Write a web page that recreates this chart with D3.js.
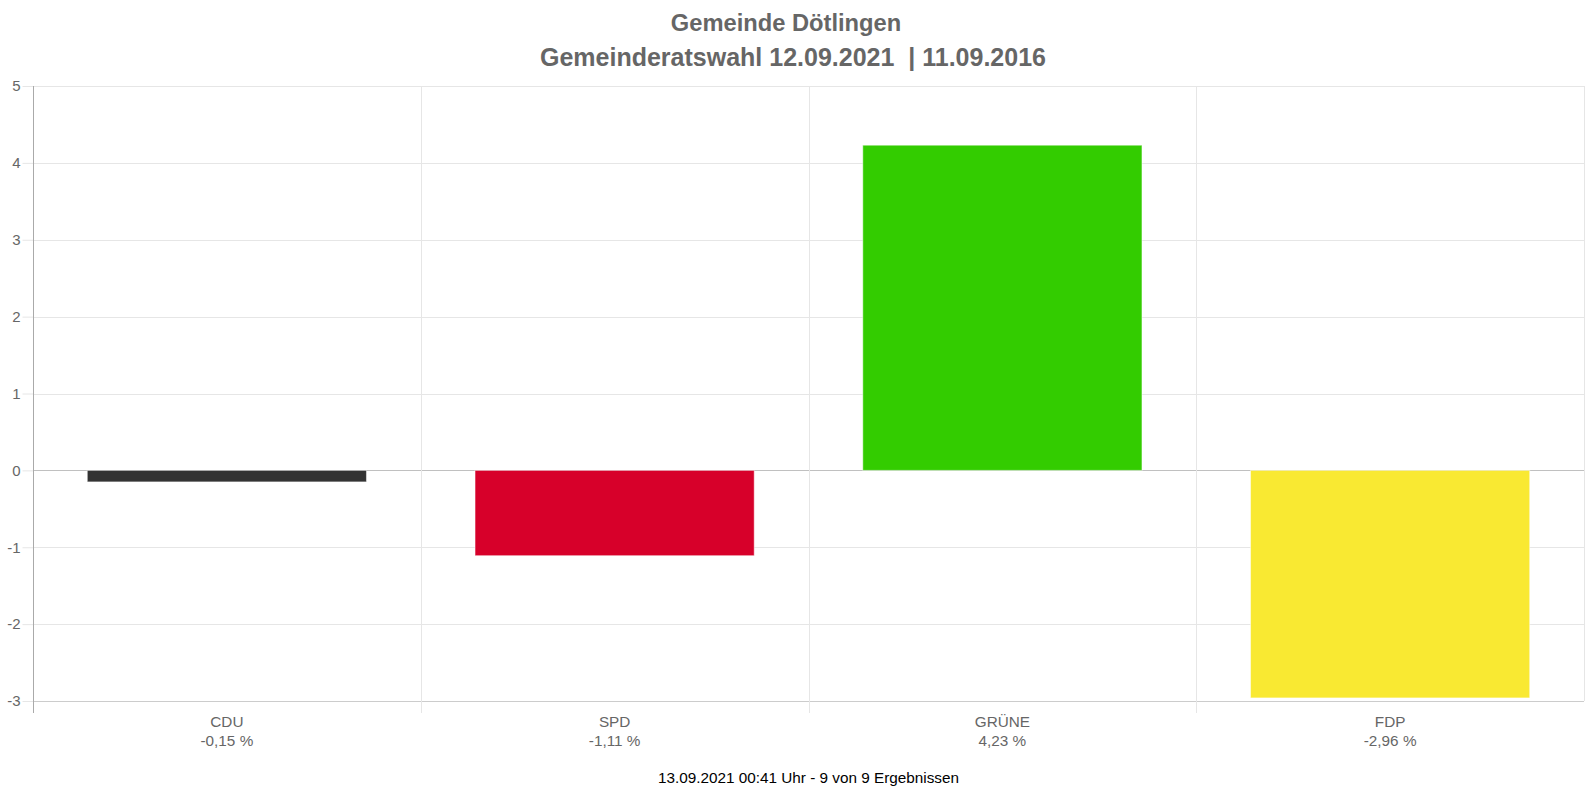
<!DOCTYPE html>
<html>
<head>
<meta charset="utf-8">
<script src="https://cdn.jsdelivr.net/npm/d3@7"></script>
<style>
  html, body { margin: 0; padding: 0; background: #fff; }
  svg { display: block; font-family: "Liberation Sans", Arial, sans-serif; }
</style>
</head>
<body>
<svg id="chart" width="1589" height="795"></svg>
<script>
const categories = ["CDU", "SPD", "GRÜNE", "FDP"];
const values = [-0.15, -1.11, 4.23, -2.96];
const valueLabels = ["-0,15 %", "-1,11 %", "4,23 %", "-2,96 %"];
const colors = ["#333333", "#d7002a", "#33cc00", "#f9e932"];
const yTicks = [-3, -2, -1, 0, 1, 2, 3, 4, 5];
const titleLines = ["Gemeinde Dötlingen", "Gemeinderatswahl 12.09.2021\u00a0\u00a0| 11.09.2016"];
const footer = "13.09.2021 00:41 Uhr - 9 von 9 Ergebnissen";

const svg = d3.select("#chart");
const pLeft = 33, pRight = 1584, pTop = 86, pBottom = 701;

const x = d3.scaleBand().domain(categories).range([pLeft, pRight])
  .paddingInner(0.28).paddingOuter(0.14);
const y = d3.scaleLinear().domain([-3, 5]).range([pBottom, pTop]);
const step = x.step();
const bandStart = c => x(c) - step * 0.14;

// horizontal gridlines
svg.append("g").selectAll("line").data(yTicks).join("line")
  .attr("x1", pLeft).attr("x2", pRight)
  .attr("y1", d => Math.round(y(d)) + 0.5).attr("y2", d => Math.round(y(d)) + 0.5)
  .attr("stroke", d => d === 0 ? "#c0c0c0" : (d === -3 ? "#cccccc" : "#e6e6e6"))
  .attr("stroke-width", 1);

// vertical gridlines (category boundaries) incl. right edge
const bounds = categories.slice(1).map(bandStart).concat([pRight]);
svg.append("g").selectAll("line").data(bounds).join("line")
  .attr("x1", d => Math.round(d) + 0.5).attr("x2", d => Math.round(d) + 0.5)
  .attr("y1", pTop).attr("y2", (d, i) => i === bounds.length - 1 ? pBottom : pBottom + 12)
  .attr("stroke", "#e6e6e6");

// y axis
const yAxis = d3.axisLeft(y).tickValues(yTicks).tickSize(11).tickPadding(2)
  .tickFormat(d => String(d));
const gy = svg.append("g").attr("transform", `translate(${pLeft + 0.5},0)`).call(yAxis);
gy.select(".domain").remove();
gy.selectAll(".tick line").attr("stroke", "#e6e6e6");
gy.selectAll(".tick text").attr("fill", "#666").attr("font-size", 15)
  .attr("font-family", "Liberation Sans, Arial, sans-serif");
svg.append("line").attr("x1", pLeft + 0.5).attr("x2", pLeft + 0.5)
  .attr("y1", pTop).attr("y2", pBottom + 12).attr("stroke", "#aaaaaa");

// bars
svg.append("g").selectAll("rect").data(categories).join("rect")
  .attr("x", d => x(d))
  .attr("width", x.bandwidth())
  .attr("y", (d, i) => y(Math.max(0, values[i])))
  .attr("height", (d, i) => Math.abs(y(values[i]) - y(0)))
  .attr("fill", (d, i) => colors[i])
  .attr("stroke", "rgba(255,255,255,0.5)").attr("stroke-width", 1);

// x labels
const xl = svg.append("g").selectAll("text").data(categories).join("text")
  .attr("x", d => x(d) + x.bandwidth() / 2)
  .attr("text-anchor", "middle").attr("fill", "#666").attr("font-size", 15.3);
xl.append("tspan").attr("x", d => x(d) + x.bandwidth() / 2).attr("y", 727).text(d => d);
xl.append("tspan").attr("x", d => x(d) + x.bandwidth() / 2).attr("y", 746).text((d, i) => valueLabels[i]);

// title
svg.append("text").attr("x", 786).attr("y", 31)
  .attr("text-anchor", "middle").attr("fill", "#666")
  .attr("font-size", 23.7).attr("font-weight", "bold").text(titleLines[0]);
svg.append("text").attr("x", 540).attr("y", 66)
  .attr("text-anchor", "start").attr("fill", "#666")
  .attr("font-size", 25).attr("font-weight", "bold").text(titleLines[1]);

// footer
svg.append("text").attr("x", (pLeft + pRight) / 2).attr("y", 783)
  .attr("text-anchor", "middle").attr("fill", "#000").attr("font-size", 15.3)
  .text(footer);
</script>
</body>
</html>
